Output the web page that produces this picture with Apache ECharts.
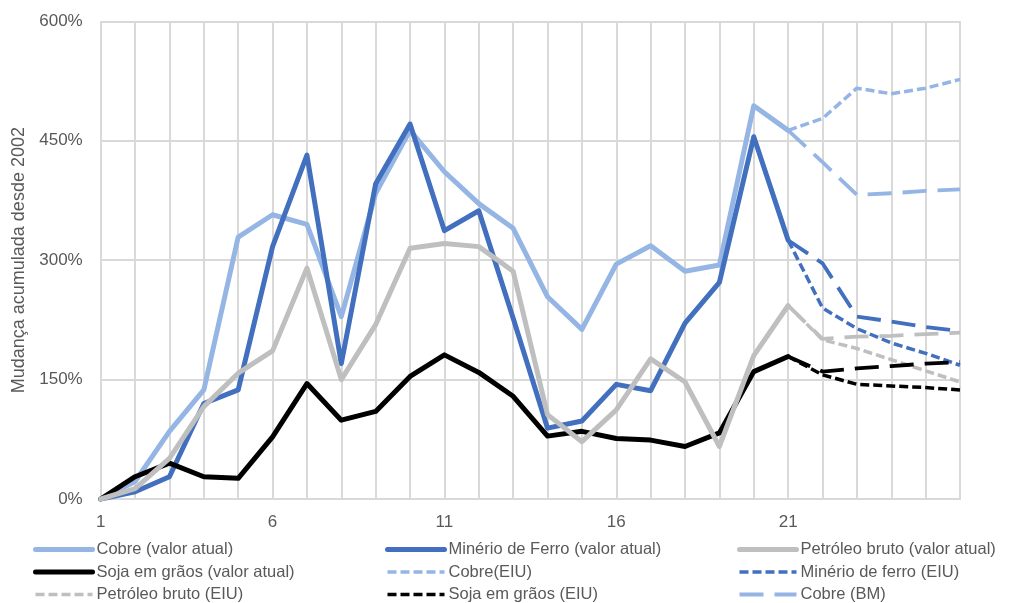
<!DOCTYPE html>
<html>
<head>
<meta charset="utf-8">
<title>Mudança acumulada desde 2002</title>
<script src="https://cdn.jsdelivr.net/npm/echarts@6/dist/echarts.min.js"></script>
<style>
  html, body { margin: 0; padding: 0; background: #ffffff; }
  #chart { width: 1016px; height: 603px; }
</style>
</head>
<body>
<div id="chart"></div>
<script>
// Periods 1..26 on the horizontal axis
const categories = Array.from({ length: 26 }, (_, i) => String(i + 1));
const yTicks = [0, 150, 300, 450, 600];

// Observed values, periods 1..21 (% change since 2002)
const cobreAtual    = [0, 22, 85, 137, 329, 357, 345, 229, 384, 463, 411, 371, 340, 254, 213, 295, 318, 286, 294, 494, 463];
const minerioAtual  = [0, 9, 28, 120, 137, 317, 432, 170, 396, 471, 337, 362, 227, 89, 98, 144, 136, 221, 272, 455, 325];
const petroleoAtual = [0, 13, 51, 116, 158, 186, 290, 150, 219, 315, 321, 317, 286, 106, 72, 112, 176, 147, 66, 180, 243];
const sojaAtual     = [0, 28, 45, 28, 26, 78, 145, 99, 110, 154, 181, 159, 129, 79, 85, 76, 74, 66, 83, 160, 179];

// Forecasts, periods 21..26
const cobreEIU    = [463, 478, 516, 509, 516, 527];
const minerioEIU  = [325, 240, 214, 196, 183, 168];
const petroleoEIU = [243, 200, 189, 175, 161, 147];
const sojaEIU     = [179, 156, 144, 142, 140, 137];
const cobreBM     = [463, 423, 382, 384, 387, 389];
const minerioBM   = [325, 296, 229, 223, 216, 211];
const petroleoBM  = [243, 201, 204, 205, 207, 209];
const sojaBM      = [179, 160, 164, 167, 170, 172];

const forecastStart = 20; // index of period 21

const C_LIGHT = '#95B5E5';
const C_DARK = '#4270BE';
const C_GRAY = '#BFBFBF';
const C_BLACK = '#000000';
const TXT = '#595959';
const FONT = 'Liberation Sans';

function padForecast(arr) {
  const out = new Array(forecastStart).fill(null);
  return out.concat(arr);
}

function solid(name, data, color, z) {
  return {
    name, type: 'line', data, symbol: 'none', showSymbol: false, z,
    lineStyle: { color, width: 5, cap: 'round', join: 'round' },
    itemStyle: { color }
  };
}
function dashed(name, data, color, z, pattern, width) {
  return {
    name, type: 'line', data: padForecast(data), symbol: 'none', showSymbol: false, z,
    lineStyle: { color, width, type: pattern, cap: 'butt', join: 'round' },
    itemStyle: { color }
  };
}

const SHORT = [9, 4];
const LONG = [24, 11];

const series = [
  solid('Cobre (valor atual)', cobreAtual, C_LIGHT, 2),
  solid('Minério de Ferro (valor atual)', minerioAtual, C_DARK, 3),
  solid('Soja em grãos (valor atual)', sojaAtual, C_BLACK, 4),
  solid('Petróleo bruto (valor atual)', petroleoAtual, C_GRAY, 5),
  dashed('Cobre(EIU)', cobreEIU, C_LIGHT, 6, SHORT, 3.5),
  dashed('Minério de ferro (EIU)', minerioEIU, C_DARK, 6, SHORT, 3.5),
  dashed('Petróleo bruto (EIU)', petroleoEIU, C_GRAY, 6, SHORT, 3.5),
  dashed('Soja em grãos (EIU)', sojaEIU, C_BLACK, 6, SHORT, 3.5),
  dashed('Cobre (BM)', cobreBM, C_LIGHT, 6, LONG, 3.8),
  dashed('Minério de ferro (BM)', minerioBM, C_DARK, 6, LONG, 3.8),
  dashed('Petróleo bruto (BM)', petroleoBM, C_GRAY, 6, LONG, 3.8),
  dashed('Soja em grãos (BM)', sojaBM, C_BLACK, 6, LONG, 3.8)
];

function legendColumn(left, names) {
  return {
    orient: 'vertical',
    left, top: 540, height: 80,
    itemWidth: 57, itemHeight: 12,
    itemGap: 3.5,
    padding: 0,
    selectedMode: false,
    itemStyle: { opacity: 0 },
    lineStyle: { width: 'inherit' },
    data: names,
    textStyle: { fontFamily: FONT, fontSize: 16.5, color: TXT, lineHeight: 19, padding: [0, 0, 0, -1] }
  };
}

const chart = echarts.init(document.getElementById('chart'), null, { renderer: 'canvas' });
chart.setOption({
  animation: false,
  backgroundColor: '#ffffff',
  grid: { left: 100.7, right: 56, top: 21.3, bottom: 104 },
  legend: [
    legendColumn(33, ['Cobre (valor atual)', 'Soja em grãos (valor atual)', 'Petróleo bruto (EIU)']),
    legendColumn(385, ['Minério de Ferro (valor atual)', 'Cobre(EIU)', 'Soja em grãos (EIU)']),
    legendColumn(737, ['Petróleo bruto (valor atual)', 'Minério de ferro (EIU)', 'Cobre (BM)'])
  ],
  xAxis: {
    type: 'category',
    data: categories,
    boundaryGap: false,
    axisLine: { show: true, lineStyle: { color: '#D9D9D9', width: 2 } },
    axisTick: { show: false },
    splitLine: { show: true, interval: 0, lineStyle: { color: '#D9D9D9', width: 2 } },
    axisLabel: {
      interval: (idx) => idx % 5 === 0 && idx < 25,
      margin: 15,
      fontFamily: FONT, fontSize: 17, color: TXT
    }
  },
  yAxis: {
    type: 'value',
    min: yTicks[0], max: yTicks[yTicks.length - 1], interval: yTicks[1] - yTicks[0],
    name: 'Mudança acumulada desde 2002',
    nameLocation: 'middle',
    nameRotate: 90,
    nameGap: 59,
    nameTextStyle: { fontFamily: FONT, fontSize: 18, color: TXT },
    axisLine: { show: false },
    axisTick: { show: false },
    splitLine: { show: true, lineStyle: { color: '#D9D9D9', width: 2 } },
    axisLabel: {
      margin: 18,
      fontFamily: FONT, fontSize: 17, color: TXT,
      formatter: (v) => v + '%'
    }
  },
  series
});
</script>
</body>
</html>
